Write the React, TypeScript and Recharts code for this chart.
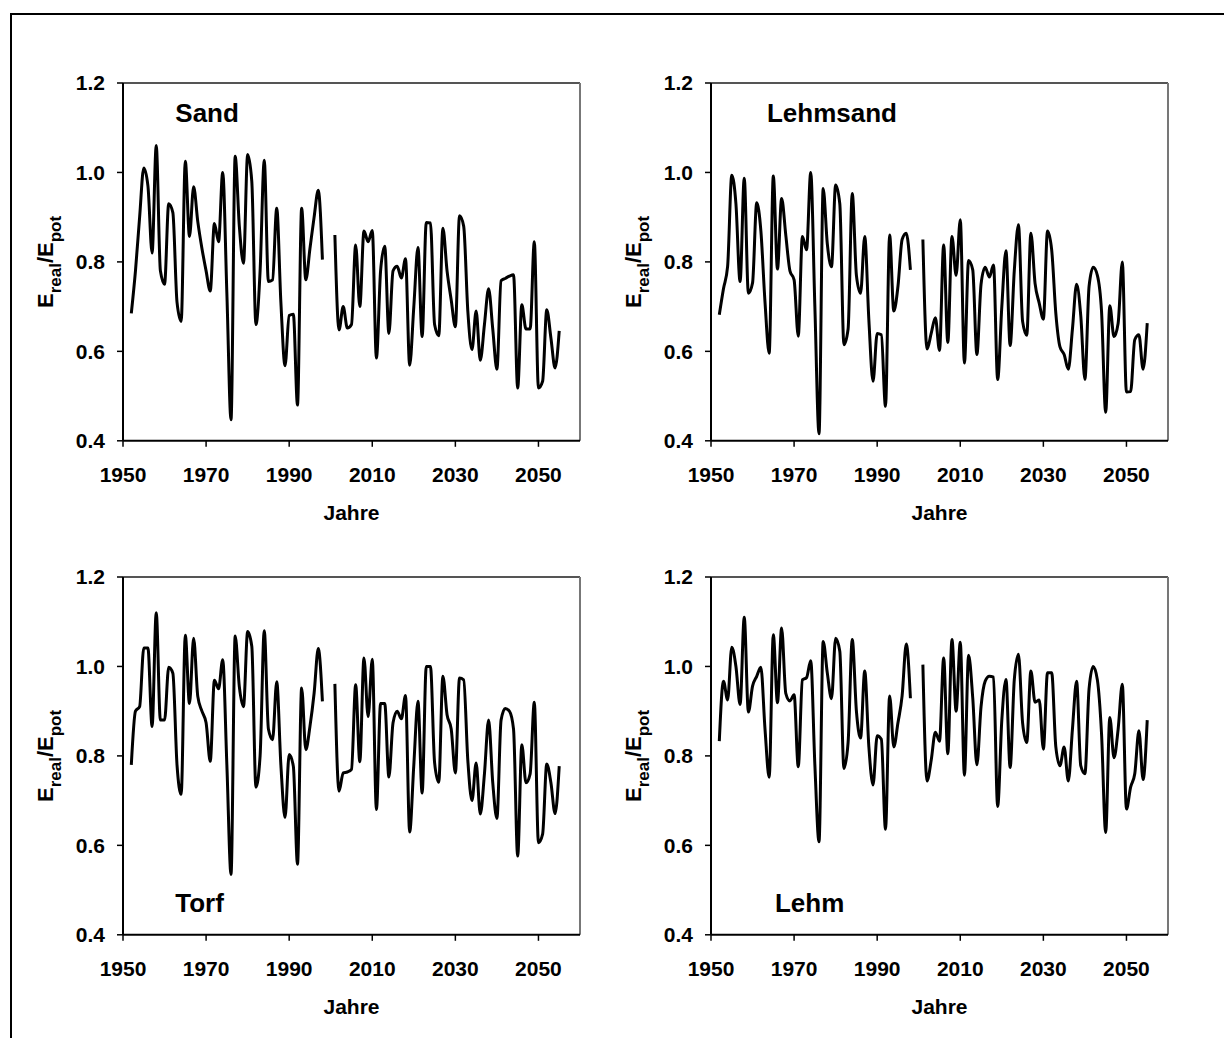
import { Line, LineChart, ReferenceLine, XAxis, YAxis } from "recharts";

const YEARS = [
  1952, 1953, 1954, 1955, 1956, 1957, 1958, 1959, 1960, 1961,
  1962, 1963, 1964, 1965, 1966, 1967, 1968, 1969, 1970, 1971,
  1972, 1973, 1974, 1975, 1976, 1977, 1978, 1979, 1980, 1981,
  1982, 1983, 1984, 1985, 1986, 1987, 1988, 1989, 1990, 1991,
  1992, 1993, 1994, 1995, 1996, 1997, 1998, 1999, 2000,
  2001, 2002, 2003, 2004, 2005, 2006, 2007, 2008, 2009, 2010,
  2011, 2012, 2013, 2014, 2015, 2016, 2017, 2018, 2019, 2020,
  2021, 2022, 2023, 2024, 2025, 2026, 2027, 2028, 2029, 2030,
  2031, 2032, 2033, 2034, 2035, 2036, 2037, 2038, 2039, 2040,
  2041, 2042, 2043, 2044, 2045, 2046, 2047, 2048, 2049, 2050,
  2051, 2052, 2053, 2054, 2055,
];

// 1999 and 2000 have no values (gap in every line)
const SAND = [
  0.685, 0.78, 0.9, 1.01, 0.97, 0.82, 1.06, 0.78, 0.75, 0.93,
  0.91, 0.71, 0.667, 1.025, 0.857, 0.968, 0.89, 0.83, 0.78, 0.735,
  0.886, 0.845, 1.0, 0.73, 0.447, 1.036, 0.88, 0.797, 1.04, 0.98,
  0.66, 0.78, 1.027, 0.756, 0.76, 0.92, 0.71, 0.568, 0.68, 0.683,
  0.48, 0.92, 0.76, 0.83, 0.9, 0.96, 0.805, null, null,
  0.86, 0.648, 0.7, 0.652, 0.66, 0.838, 0.7, 0.869, 0.845, 0.87,
  0.585, 0.78, 0.835, 0.64, 0.78, 0.79, 0.764, 0.807, 0.569, 0.7,
  0.832, 0.633, 0.888, 0.887, 0.66, 0.635, 0.875, 0.78, 0.715, 0.655,
  0.903, 0.88, 0.69, 0.604, 0.69, 0.58, 0.66, 0.74, 0.65, 0.56,
  0.758, 0.763, 0.768, 0.771, 0.518, 0.704, 0.65, 0.65, 0.845, 0.518,
  0.533, 0.693, 0.63, 0.563, 0.646,
];

const LEHMSAND = [
  0.682, 0.74, 0.79, 0.994, 0.93, 0.756, 0.987, 0.73, 0.753, 0.932,
  0.87, 0.71, 0.596, 0.992, 0.784, 0.942, 0.86, 0.78, 0.76, 0.634,
  0.857, 0.827, 1.0, 0.7, 0.416, 0.964, 0.84, 0.789, 0.972, 0.93,
  0.615, 0.65, 0.953, 0.77, 0.73, 0.857, 0.67, 0.533, 0.64, 0.637,
  0.477, 0.86, 0.69, 0.745, 0.85, 0.864, 0.782, null, null,
  0.85, 0.605, 0.64, 0.675, 0.602, 0.838, 0.62, 0.857, 0.77, 0.894,
  0.574, 0.803, 0.782, 0.593, 0.75, 0.788, 0.766, 0.793, 0.537, 0.7,
  0.825, 0.613, 0.78, 0.883, 0.667, 0.636, 0.864, 0.752, 0.708, 0.672,
  0.869, 0.827, 0.685, 0.61, 0.593, 0.56, 0.65, 0.75, 0.68, 0.537,
  0.745, 0.788, 0.77, 0.69, 0.464, 0.702, 0.633, 0.663, 0.8, 0.509,
  0.51, 0.626, 0.637, 0.56, 0.663,
];

const TORF = [
  0.78, 0.9, 0.91, 1.041, 1.041, 0.866, 1.12, 0.88, 0.88, 0.998,
  0.985, 0.78, 0.714, 1.07, 0.917, 1.063, 0.933, 0.9, 0.874, 0.788,
  0.969, 0.95, 1.015, 0.78, 0.535, 1.068, 0.955, 0.91, 1.078, 1.045,
  0.73, 0.8, 1.08, 0.86, 0.836, 0.966, 0.78, 0.662, 0.803, 0.777,
  0.558, 0.952, 0.814, 0.866, 0.94, 1.04, 0.922, null, null,
  0.961, 0.721, 0.762, 0.764, 0.77, 0.959, 0.787, 1.019, 0.888, 1.016,
  0.68, 0.917, 0.917, 0.753, 0.874, 0.9, 0.883, 0.935, 0.63, 0.78,
  0.922, 0.717, 1.0, 1.0, 0.785, 0.741, 0.978, 0.892, 0.86, 0.762,
  0.974, 0.97, 0.79, 0.7, 0.784, 0.67, 0.76, 0.88, 0.74, 0.66,
  0.88, 0.906, 0.9, 0.86, 0.576, 0.825, 0.74, 0.76, 0.92, 0.606,
  0.625, 0.782, 0.74, 0.671, 0.777,
];

const LEHM = [
  0.833, 0.967, 0.925, 1.043, 1.0, 0.915, 1.11, 0.898, 0.956, 0.978,
  0.998, 0.86, 0.752, 1.071, 0.919, 1.086, 0.94, 0.923, 0.937, 0.776,
  0.97, 0.975, 1.013, 0.78, 0.608, 1.056, 0.985, 0.928, 1.063, 1.034,
  0.772, 0.83, 1.06, 0.9, 0.84, 0.99, 0.82, 0.735, 0.845, 0.837,
  0.636, 0.934, 0.82, 0.874, 0.934, 1.05, 0.929, null, null,
  1.004, 0.744, 0.79, 0.853, 0.833, 1.019, 0.805, 1.06, 0.9, 1.054,
  0.757, 1.025, 0.93, 0.78, 0.91, 0.967, 0.978, 0.976, 0.687, 0.88,
  0.971, 0.774, 0.97, 1.027, 0.874, 0.83, 0.99, 0.92, 0.925, 0.815,
  0.986, 0.986, 0.82, 0.778, 0.82, 0.744, 0.86, 0.967, 0.778, 0.76,
  0.95, 1.0, 0.97, 0.85, 0.629, 0.886, 0.796, 0.86, 0.96, 0.681,
  0.73, 0.76, 0.856, 0.747, 0.88,
];

const X_TICKS = [1950, 1970, 1990, 2010, 2030, 2050];
const Y_TICKS = [0.4, 0.6, 0.8, 1.0, 1.2];
const X_DOMAIN = [1950, 2060];
const Y_DOMAIN = [0.4, 1.2];

const rows = YEARS.map((year, i) => ({
  year,
  sand: SAND[i],
  lehmsand: LEHMSAND[i],
  torf: TORF[i],
  lehm: LEHM[i],
}));

const FONT = '"Liberation Sans", Arial, sans-serif';
const PLOT_W = 457;
const PLOT_H = 357.8;
const YAXIS_W = 100;
const XAXIS_H = 100;
const M_TOP = 40;
const M_RIGHT = 15;

const tickStyle = { fill: "#000", fontSize: 21, fontWeight: 700, fontFamily: FONT };

function YLabel(props: any) {
  const vb = props.viewBox || { x: 0, y: 0, width: 0, height: 0 };
  const cx = vb.x + 30;
  const cy = vb.y + vb.height / 2;
  return (
    <text
      x={cx}
      y={cy}
      transform={`rotate(-90 ${cx} ${cy})`}
      textAnchor="middle"
      fill="#000"
      style={{ fontFamily: FONT, fontWeight: 700, fontSize: 22 }}
    >
      E<tspan dy={8} fontSize={17}>real</tspan>
      <tspan dy={-8}>/E</tspan>
      <tspan dy={8} fontSize={17}>pot</tspan>
    </text>
  );
}

function XLabel(props: any) {
  const vb = props.viewBox || { x: 0, y: 0, width: 0, height: 0 };
  return (
    <text
      x={vb.x + vb.width / 2}
      y={vb.y + 79}
      textAnchor="middle"
      fill="#000"
      style={{ fontFamily: FONT, fontWeight: 700, fontSize: 21 }}
    >
      Jahre
    </text>
  );
}

function Panel({ dataKey, title, plotLeft, plotTop, titleX, titleY }: any) {
  return (
    <div style={{ position: "absolute", left: plotLeft - YAXIS_W, top: plotTop - M_TOP }}>
      <LineChart
        width={YAXIS_W + PLOT_W + M_RIGHT}
        height={M_TOP + PLOT_H + XAXIS_H}
        data={rows}
        margin={{ top: M_TOP, right: M_RIGHT, left: 0, bottom: 0 }}
      >
        <XAxis
          dataKey="year"
          type="number"
          domain={X_DOMAIN}
          ticks={X_TICKS}
          height={XAXIS_H}
          axisLine={{ stroke: "#000", strokeWidth: 2 }}
          tickLine={{ stroke: "#000", strokeWidth: 1.5 }}
          tickSize={6}
          tickMargin={20}
          tick={tickStyle}
          interval={0}
          label={<XLabel />}
        />
        <YAxis
          domain={Y_DOMAIN}
          ticks={Y_TICKS}
          width={YAXIS_W}
          axisLine={{ stroke: "#000", strokeWidth: 2 }}
          tickLine={{ stroke: "#000", strokeWidth: 1.5 }}
          tickSize={6}
          tickMargin={12}
          tick={tickStyle}
          interval={0}
          tickFormatter={(v: number) => v.toFixed(1)}
          label={<YLabel />}
        />
        {/* plot-area frame: top and right edges */}
        <ReferenceLine y={1.2} stroke="#555" strokeWidth={2} />
        <ReferenceLine x={2060} stroke="#777" strokeWidth={2} />
        <Line
          type="monotone"
          dataKey={dataKey}
          stroke="#000"
          strokeWidth={3}
          dot={false}
          activeDot={false}
          connectNulls={false}
          isAnimationActive={false}
        />
        <text
          x={YAXIS_W + titleX}
          y={M_TOP + titleY}
          fill="#000"
          style={{ fontFamily: FONT, fontWeight: 700, fontSize: 26 }}
        >
          {title}
        </text>
      </LineChart>
    </div>
  );
}

export default function App() {
  return (
    <div
      style={{
        position: "absolute",
        left: 0,
        top: 0,
        width: 1224,
        height: 1038,
        overflow: "hidden",
        background: "#fff",
      }}
    >
      <div
        style={{
          position: "absolute",
          left: 10,
          top: 13,
          width: 1240,
          height: 1060,
          border: "2px solid #000",
        }}
      />
      <Panel dataKey="sand" title="Sand" plotLeft={122.7} plotTop={82.5} titleX={52.3} titleY={39.5} />
      <Panel dataKey="lehmsand" title="Lehmsand" plotLeft={711} plotTop={83} titleX={56} titleY={39} />
      <Panel dataKey="torf" title="Torf" plotLeft={122.7} plotTop={577.3} titleX={52.3} titleY={335} />
      <Panel dataKey="lehm" title="Lehm" plotLeft={711} plotTop={577.3} titleX={64} titleY={335} />
    </div>
  );
}
